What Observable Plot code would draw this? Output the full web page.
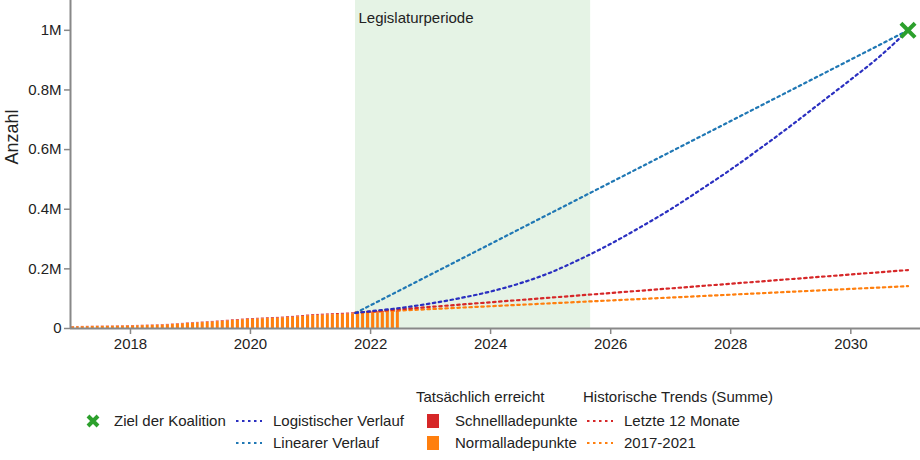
<!DOCTYPE html>
<html><head><meta charset="utf-8">
<script src="https://cdn.jsdelivr.net/npm/d3@7"></script>
<script src="https://cdn.jsdelivr.net/npm/@observablehq/plot@0.6"></script>
<style>
body{margin:0;background:#fff;font-family:"Liberation Sans",Arial,sans-serif;}
#legend{position:relative;width:920px;height:90px;font-size:15px;color:#222;}
#legend .t{position:absolute;line-height:16px;white-space:nowrap;}
#legend svg{position:absolute;overflow:visible;}
</style></head>
<body>
<div id="chart"></div>
<div id="legend"></div>
<script>
// ---- data (values in charging points) ----
const barStartYear = 2017;
const normalValues = [ // Normalladepunkte, monthly 2017-01 .. 2022-06
  5700,6000,6200,6300,6600,6900,7000,7300,7600,7900,8200,8600,
  8800,9200,9600,9900,10400,10900,11600,12300,13300,14400,15600,16700,
  17800,18700,19700,20700,21900,23000,24300,25500,26900,28000,29200,30200,
  31200,31900,32600,33300,34000,34700,35600,36600,37900,39200,40700,42100,
  43300,44200,45000,45700,46400,47000,47800,48500,49300,50000,50600,51100,
  51700,52200,52800,53300,53900,54400];
const fastValues = [ // Schnellladepunkte
  800,800,800,900,900,900,1000,1000,1000,1100,1100,1100,
  1200,1200,1200,1300,1300,1400,1400,1500,1500,1600,1600,1700,
  1700,1800,1800,1900,1900,2000,2000,2100,2100,2200,2200,2300,
  2300,2400,2400,2500,2500,2600,2600,2700,2700,2800,2800,2900,
  2900,3000,3000,3100,3100,3200,3200,3300,3300,3400,3400,3500,
  3500,3600,3600,3700,3700,3800];

const trendDates = ["2021-10-01", "2030-12-15"];
const linearValues = [52000, 1000000];      // Linearer Verlauf
const trend12Values = [53000, 196000];      // Letzte 12 Monate
const trend1721Values = [53000, 142000];    // 2017-2021

const logisticDates = ["2021-10-01","2022-01-01","2022-07-01","2023-01-01","2023-07-01","2024-01-01","2024-07-01",
  "2025-01-01","2025-07-01","2026-01-01","2026-07-01","2027-01-01","2027-07-01","2028-01-01","2028-07-01",
  "2029-01-01","2029-07-01","2030-01-01","2030-07-01","2030-12-15"];
const logisticValues = [52000,58000,69000,84000,102000,124000,152000,
  188000,233000,284000,340000,400000,465000,533000,605000,
  680000,757000,835000,915000,1000000];

const targetDate = "2030-12-15";
const targetValue = 1000000;

const legisStart = "2021-10-01";
const legisEnd = "2025-09-01";
const legisLabel = "Legislaturperiode";

const xTickYears = [2018, 2020, 2022, 2024, 2026, 2028, 2030];
const yTicks = [0, 200000, 400000, 600000, 800000, 1000000];

// ---- build tables ----
const D = s => new Date(s + "T00:00:00Z");
const bars = [];
normalValues.forEach((v, i) => {
  const start = new Date(Date.UTC(barStartYear, i, 1));
  const end = new Date(Date.UTC(barStartYear, i + 1, 1));
  bars.push({start, end, y1: 0, y2: v, type: "Normalladepunkte"});
  bars.push({start, end, y1: v, y2: v + fastValues[i], type: "Schnellladepunkte"});
});
const mk = (dates, vals) => dates.map((d, i) => ({date: D(d), value: vals[i]}));
const linear = mk(trendDates, linearValues);
const trend12 = mk(trendDates, trend12Values);
const trend1721 = mk(trendDates, trend1721Values);
const logistic = mk(logisticDates, logisticValues);
const target = [{date: D(targetDate), value: targetValue}];
const legis = [{start: D(legisStart), end: D(legisEnd), label: legisLabel}];
const xTicks = xTickYears.map(y => new Date(Date.UTC(y, 0, 1)));
const xStart = new Date(Date.UTC(2017, 0, 1));

const C = {orange: "#ff7f0e", red: "#d62728", blue: "#1f77b4", dblue: "#2a2fc0", green: "#2ca02c"};
const dash = "2.5,3.5";
const lw = 2.2;

const chart = Plot.plot({
  width: 920, height: 370,
  marginLeft: 70, marginRight: 0, marginTop: 0, marginBottom: 42,
  style: {fontFamily: "Liberation Sans, Arial, sans-serif", fontSize: "15px", color: "#222", background: "#fff"},
  x: {type: "utc", domain: [xStart, new Date(Date.UTC(2031, 2, 1))]},
  y: {domain: [0, 1100000]},
  color: {domain: ["Normalladepunkte", "Schnellladepunkte"], range: [C.orange, C.red]},
  marks: [
    Plot.rect(legis, {x1: "start", x2: "end", fill: C.green, fillOpacity: 0.12}),
    Plot.text(legis, {x: "start", text: "label", frameAnchor: "top", textAnchor: "start", dx: 3, dy: 12, fontSize: 15, fill: "#222"}),
    Plot.rect(bars, {x1: "start", x2: "end", y1: "y1", y2: "y2", fill: "type", insetLeft: 1, insetRight: 1}),
    Plot.line(trend1721, {x: "date", y: "value", stroke: C.orange, strokeWidth: lw, strokeDasharray: dash}),
    Plot.line(trend12, {x: "date", y: "value", stroke: C.red, strokeWidth: lw, strokeDasharray: dash}),
    Plot.line(linear, {x: "date", y: "value", stroke: C.blue, strokeWidth: lw, strokeDasharray: dash}),
    Plot.line(logistic, {x: "date", y: "value", stroke: C.dblue, strokeWidth: lw, strokeDasharray: dash, curve: "monotone-x"}),
    Plot.dot(target, {x: "date", y: "value", symbol: "times", r: 6.5, stroke: C.green, strokeWidth: 4}),
    Plot.ruleY([0], {stroke: "#888", strokeWidth: 2}),
    Plot.ruleX([xStart], {stroke: "#888", strokeWidth: 2}),
    Plot.axisX(xTicks, {tickFormat: "%Y", tickSize: 6, tickPadding: 4, stroke: "#888", strokeWidth: 1.5, fill: "#222", fontSize: 15, label: null}),
    Plot.axisY(yTicks, {tickFormat: d => d === 0 ? "0" : (d / 1e6) + "M", tickSize: 6, tickPadding: 3, stroke: "#888", strokeWidth: 1.5, fill: "#222", fontSize: 15, label: null}),
    Plot.text(["Anzahl"], {frameAnchor: "left", rotate: -90, dx: -58, fontSize: 18, fill: "#222"})
  ]
});
document.getElementById("chart").appendChild(chart);

// ---- legend ----
const L = document.getElementById("legend");
const rowC = [27, 51, 73]; // vertical centers
function txt(s, x, cy) {
  const e = document.createElement("div");
  e.className = "t"; e.textContent = s;
  e.style.left = x + "px"; e.style.top = (cy - 8) + "px";
  L.appendChild(e);
}
function svgEl(x, y, w, h, inner) {
  const s = document.createElementNS("http://www.w3.org/2000/svg", "svg");
  s.setAttribute("width", w); s.setAttribute("height", h);
  s.style.left = x + "px"; s.style.top = y + "px";
  s.innerHTML = inner; L.appendChild(s);
}
function lineKey(x, cy, color) {
  svgEl(x, cy - 2, 26, 4, `<line x1="0" y1="2" x2="26" y2="2" stroke="${color}" stroke-width="${lw}" stroke-dasharray="${dash}"/>`);
}
function boxKey(cx, cy, color) {
  svgEl(cx - 6, cy - 7, 12, 14, `<rect width="12" height="14" fill="${color}"/>`);
}
svgEl(86, rowC[1] - 7, 14, 14, `<path d="M2,2L12,12M12,2L2,12" stroke="${C.green}" stroke-width="4"/>`);
txt("Ziel der Koalition", 114, rowC[1]);
lineKey(236, rowC[1], C.dblue); txt("Logistischer Verlauf", 273, rowC[1]);
lineKey(236, rowC[2], C.blue); txt("Linearer Verlauf", 273, rowC[2]);
txt("Tatsächlich erreicht", 416, rowC[0]);
boxKey(433, rowC[1], C.red); txt("Schnellladepunkte", 455, rowC[1]);
boxKey(433, rowC[2], C.orange); txt("Normalladepunkte", 455, rowC[2]);
txt("Historische Trends (Summe)", 583, rowC[0]);
lineKey(587, rowC[1], C.red); txt("Letzte 12 Monate", 624, rowC[1]);
lineKey(587, rowC[2], C.orange); txt("2017-2021", 624, rowC[2]);
</script>
</body></html>
